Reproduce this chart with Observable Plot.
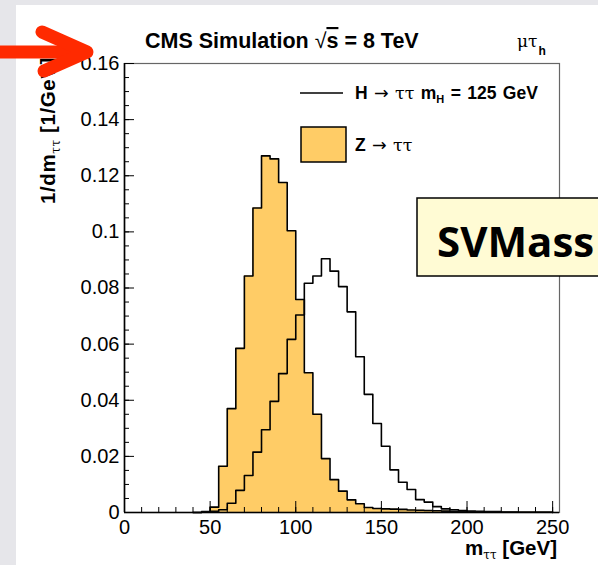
<!DOCTYPE html>
<html><head><meta charset="utf-8">
<script src="https://cdn.jsdelivr.net/npm/d3@7"></script>
<script src="https://cdn.jsdelivr.net/npm/@observablehq/plot@0.6"></script>
<style>
body{margin:0;background:#e6e6ea;width:598px;height:565px;overflow:hidden;position:relative;font-family:"Liberation Sans",Arial,sans-serif}
#panel{position:absolute;left:16px;top:5px;right:0;bottom:0;background:#fff}
#chart{position:absolute;left:0;top:0}
#overlay{position:absolute;left:0;top:0}
.sym{font-family:"DejaVu Serif",serif;font-weight:normal}
.arr{font-family:"DejaVu Sans",sans-serif;font-weight:normal}
</style></head><body>
<div id="panel"></div>
<div id="chart"></div>
<svg id="overlay" width="598" height="565" font-family="Liberation Sans, Arial, sans-serif">
  <text x="145" y="48" font-weight="bold" font-size="21.5" fill="#000">CMS Simulation <tspan font-weight="normal">√</tspan><tspan style="text-decoration:overline">s</tspan> = 8 TeV</text>
  <text x="517" y="47" font-size="17" font-family="DejaVu Serif" fill="#000">μτ<tspan font-family="Liberation Sans" font-weight="bold" font-size="12" dy="8" dx="1">h</tspan></text>
  <text transform="translate(55,57) rotate(-90)" text-anchor="end" font-weight="bold" font-size="20.5" letter-spacing="0.6" fill="#000">1/dm<tspan class="sym" font-size="12" dy="5">ττ</tspan><tspan dy="-5"> [1/GeV]</tspan></text>
  <text x="557" y="555" text-anchor="end" font-weight="bold" font-size="20.5" fill="#000">m<tspan class="sym" font-size="12" dy="4">ττ</tspan><tspan dy="-4"> [GeV]</tspan></text>
  <line x1="300" y1="93" x2="343" y2="93" stroke="#000" stroke-width="1.5"/>
  <text x="355" y="99" font-weight="bold" font-size="17.5" word-spacing="1.5" fill="#000">H <tspan class="arr">→</tspan> <tspan class="sym">ττ</tspan> m<tspan font-size="11" dy="4">H</tspan><tspan dy="-4"> = 125 GeV</tspan></text>
  <rect x="301" y="127" width="45" height="35" fill="#ffcc66" stroke="#000" stroke-width="1.5"/>
  <text x="355" y="151" font-weight="bold" font-size="17.5" word-spacing="1.5" fill="#000">Z <tspan class="arr">→</tspan> <tspan class="sym">ττ</tspan></text>
  <rect x="417" y="198" width="200" height="78" fill="#fffbd4" stroke="#000" stroke-width="1.5"/>
  <text x="437" y="257" font-family="Open Sans" font-weight="bold" font-size="42" fill="#000">SVMass</text>
  <g stroke="#ff2a00" stroke-width="13" stroke-linecap="round" stroke-linejoin="round" fill="none">
    <path d="M-10 52 H80"/>
    <path d="M42 32 L87 52 L44 71"/>
  </g>
</svg>
<script>
// bin lower edges (GeV), 5 GeV bins
const binStart = [40,45,50,55,60,65,70,75,80,85,90,95,100,105,110,115,120,125,130,135,140,145,150,155,160,165,170,175,180,185,190,195,200,205,210,215,220,225,230,235,240,245];
const binWidth = 5;
// Z -> tautau (filled)
const zValues = [0,0.0003,0.0019,0.0165,0.0370,0.0585,0.0843,0.1085,0.1271,0.1260,0.1176,0.1004,0.0759,0.0498,0.0350,0.0192,0.0117,0.0076,0.0045,0.0031,0.0018,0.0014,0.0013,0.0012,0.0011,0.0009,0.0008,0.0007,0.0006,0.0005,0.0004,0.0003,0.0002,0.0002,0.0001,0.0001,0.0001,0.0001,0.0001,0.0001,0.0001,0.0001];
// H -> tautau, mH = 125 GeV (line)
const hValues = [0,0.0001,0.0004,0.0010,0.0033,0.0079,0.0132,0.0215,0.0295,0.0396,0.0495,0.0617,0.0704,0.0817,0.0843,0.0904,0.0860,0.0805,0.0715,0.0555,0.0421,0.0317,0.0236,0.0152,0.0108,0.0082,0.0046,0.0037,0.0021,0.0013,0.0010,0.0007,0.0005,0.0004,0.0003,0.0003,0.0002,0.0002,0.0001,0.0001,0.0001,0.0001];
const yTicks = [0,0.02,0.04,0.06,0.08,0.1,0.12,0.14,0.16];
const yTickLabels = ["0","0.02","0.04","0.06","0.08","0.1","0.12","0.14","0.16"];
const xTicks = [0,50,100,150,200,250];
const xTickLabels = ["0","50","100","150","200","250"];

const W = 598, H = 565, mL = 124, mR = 39, mT = 63, mB = 53;
const pw = W - mL - mR, ph = H - mT - mB;
const yMinor = d3.range(0, 0.1601, 0.005);
const xMinor = d3.range(0, 251, 10);

function steps(values) {
  const pts = [{x: binStart[0], v: 0}];
  binStart.forEach((x, i) => pts.push({x, v: values[i]}));
  pts.push({x: binStart[binStart.length - 1] + binWidth, v: 0});
  return pts;
}
const zPts = steps(zValues), hPts = steps(hValues);

const chart = Plot.plot({
  width: W, height: H,
  marginLeft: mL, marginRight: mR, marginTop: mT, marginBottom: mB,
  style: {background: "transparent", fontFamily: "Liberation Sans, Arial, sans-serif", color: "#000"},
  x: {domain: [0, 254], axis: null},
  y: {domain: [0, 0.16], axis: null},
  marks: [
    Plot.areaY(zPts, {x: "x", y: "v", curve: "step-after", fill: "#ffcc66"}),
    Plot.line(zPts, {x: "x", y: "v", curve: "step-after", stroke: "#000", strokeWidth: 1.6}),
    Plot.line(hPts, {x: "x", y: "v", curve: "step-after", stroke: "#000", strokeWidth: 1.6}),
    Plot.frame({stroke: "#666", strokeWidth: 1.2}),
    Plot.tickY(yMinor, {y: d => d, stroke: "#000", strokeWidth: 1, insetRight: pw - 5}),
    Plot.tickY(yTicks, {y: d => d, stroke: "#000", strokeWidth: 1, insetRight: pw - 10}),
    Plot.tickX(xMinor, {x: d => d, stroke: "#000", strokeWidth: 1, insetTop: ph - 5}),
    Plot.tickX(xTicks, {x: d => d, stroke: "#000", strokeWidth: 1, insetTop: ph - 11}),
    Plot.ruleX([0], {stroke: "#000", strokeWidth: 1.6}),
    Plot.ruleY([0], {stroke: "#000", strokeWidth: 1.6}),
    Plot.axisY(yTicks, {anchor: "left", label: null, tickSize: 0, tickPadding: 5, fontSize: 20, tickFormat: d => yTickLabels[yTicks.indexOf(d)]}),
    Plot.axisX(xTicks, {anchor: "bottom", label: null, tickSize: 0, tickPadding: 7, fontSize: 20, tickFormat: d => xTickLabels[xTicks.indexOf(d)]})
  ]
});
document.getElementById("chart").appendChild(chart);
</script>
</body></html>
